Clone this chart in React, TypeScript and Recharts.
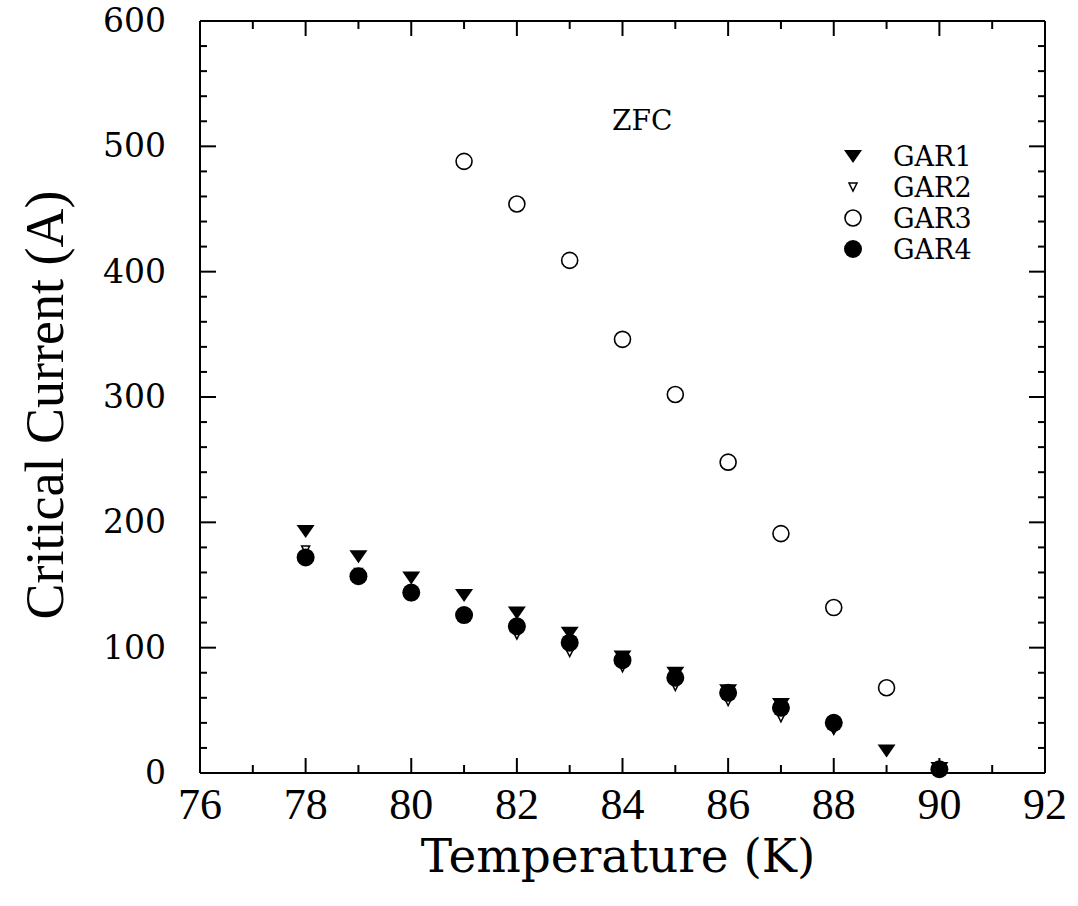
import { ScatterChart, Scatter, XAxis, YAxis } from "recharts"

const temps = [78, 79, 80, 81, 82, 83, 84, 85, 86, 87, 88, 89, 90]
const gar1 = [193, 173, 156, 142, 128, 112, 93, 80, 66, 55, 36, 18, 4]
const gar2 = [178, 160, 141, 124, 110, 96, 84, 69, 57, 44, 34, null, 2]
const gar3Temps = [81, 82, 83, 84, 85, 86, 87, 88, 89]
const gar3 = [488, 454, 409, 346, 302, 248, 191, 132, 68]
const gar4 = [172, 157, 144, 126, 117, 104, 90, 76, 64, 52, 40, null, 3]

const xTicks = [76, 77, 78, 79, 80, 81, 82, 83, 84, 85, 86, 87, 88, 89, 90, 91, 92]
const yTicks = Array.from({ length: 31 }, (_, i) => i * 20)

const toPoints = (xs: number[], ys: (number | null)[]) =>
    xs.map((t, i) => ({ t, v: ys[i] })).filter((p) => p.v !== null)

const FONT = "'DejaVu Serif', serif"

const TriFilled = ({ cx, cy }: any) => (
    <path d={`M${cx - 9},${cy - 6} L${cx + 9},${cy - 6} L${cx},${cy + 7} Z`} fill="#000" />
)
const TriOpen = ({ cx, cy }: any) => (
    <path d={`M${cx - 4},${cy - 4} L${cx + 4},${cy - 4} L${cx},${cy + 4} Z`} fill="#fff" stroke="#000" strokeWidth={1.5} />
)
const CircOpen = ({ cx, cy }: any) => (
    <circle cx={cx} cy={cy} r={8} fill="none" stroke="#000" strokeWidth={1.6} />
)
const CircFilled = ({ cx, cy }: any) => <circle cx={cx} cy={cy} r={9} fill="#000" />
const Nothing = () => <g />

const BottomTick = ({ x, y, payload }: any) => {
    const major = payload.value % 2 === 0
    return (
        <g>
            <line x1={x} x2={x} y1={y} y2={y - (major ? 15 : 8)} stroke="#000" strokeWidth={2} />
            {major && (
                <text x={x} y={y + 46} textAnchor="middle" fontFamily="'Liberation Serif', serif" fontSize={44} fill="#000">
                    {payload.value}
                </text>
            )}
        </g>
    )
}
const TopTick = ({ x, y, payload }: any) => {
    const major = payload.value % 2 === 0
    return <line x1={x} x2={x} y1={y} y2={y + (major ? 15 : 8)} stroke="#000" strokeWidth={2} />
}
const LeftTick = ({ x, y, payload }: any) => {
    const major = payload.value % 100 === 0
    return (
        <g>
            <line x1={x} x2={x + (major ? 16 : 7)} y1={y} y2={y} stroke="#000" strokeWidth={2} />
            {major && (
                <text x={x - 34} y={y + 11} textAnchor="end" fontFamily={FONT} fontSize={33} fill="#000">
                    {payload.value}
                </text>
            )}
        </g>
    )
}
const RightTick = ({ x, y, payload }: any) => {
    const major = payload.value % 100 === 0
    return <line x1={x} x2={x - (major ? 16 : 7)} y1={y} y2={y} stroke="#000" strokeWidth={2} />
}

const legendItems = [
    { name: "GAR1", Shape: TriFilled },
    { name: "GAR2", Shape: TriOpen },
    { name: "GAR3", Shape: CircOpen },
    { name: "GAR4", Shape: CircFilled },
]

const LegendBox = () => (
    <svg width={170} height={125} style={{ position: "absolute", left: 841, top: 142 }}>
        {legendItems.map(({ name, Shape }, i) => (
            <g key={name}>
                <Shape cx={12} cy={14 + i * 31} />
                <text x={52} y={24 + i * 31} fontFamily={FONT} fontSize={27} fill="#000">
                    {name}
                </text>
            </g>
        ))}
    </svg>
)

export default function App() {
    return (
        <div style={{ position: "absolute", left: 0, top: 0, width: 1078, height: 906, background: "#fff" }}>
            <ScatterChart width={1078} height={906} margin={{ top: 20, right: 32, bottom: 73, left: 80 }}>
                <XAxis
                    xAxisId="b"
                    dataKey="t"
                    type="number"
                    domain={[76, 92]}
                    ticks={xTicks}
                    interval={0}
                    height={60}
                    tickSize={0}
                    tickMargin={0}
                    tickLine={false}
                    axisLine={{ stroke: "#000", strokeWidth: 2 }}
                    tick={<BottomTick />}
                />
                <XAxis
                    xAxisId="t"
                    orientation="top"
                    dataKey="t"
                    type="number"
                    domain={[76, 92]}
                    ticks={xTicks}
                    interval={0}
                    height={1}
                    tickSize={0}
                    tickMargin={0}
                    tickLine={false}
                    axisLine={{ stroke: "#000", strokeWidth: 2 }}
                    tick={<TopTick />}
                />
                <YAxis
                    yAxisId="l"
                    dataKey="v"
                    type="number"
                    domain={[0, 600]}
                    ticks={yTicks}
                    interval={0}
                    width={120}
                    tickSize={0}
                    tickMargin={0}
                    tickLine={false}
                    axisLine={{ stroke: "#000", strokeWidth: 2 }}
                    tick={<LeftTick />}
                />
                <YAxis
                    yAxisId="r"
                    orientation="right"
                    dataKey="v"
                    type="number"
                    domain={[0, 600]}
                    ticks={yTicks}
                    interval={0}
                    width={1}
                    tickSize={0}
                    tickMargin={0}
                    tickLine={false}
                    axisLine={{ stroke: "#000", strokeWidth: 2 }}
                    tick={<RightTick />}
                />
                <Scatter xAxisId="t" yAxisId="r" name="frame" data={toPoints(temps, gar1)} shape={<Nothing />} isAnimationActive={false} />
                <Scatter xAxisId="b" yAxisId="l" name="GAR2" data={toPoints(temps, gar2)} shape={<TriOpen />} isAnimationActive={false} />
                <Scatter xAxisId="b" yAxisId="l" name="GAR3" data={toPoints(gar3Temps, gar3)} shape={<CircOpen />} isAnimationActive={false} />
                <Scatter xAxisId="b" yAxisId="l" name="GAR1" data={toPoints(temps, gar1)} shape={<TriFilled />} isAnimationActive={false} />
                <Scatter xAxisId="b" yAxisId="l" name="GAR4" data={toPoints(temps, gar4)} shape={<CircFilled />} isAnimationActive={false} />
            </ScatterChart>
            <LegendBox />
            <div style={{ position: "absolute", left: 612, top: 104, fontFamily: FONT, fontSize: 28 }}>ZFC</div>
            <div
                style={{
                    position: "absolute",
                    left: 618,
                    top: 855,
                    transform: "translate(-50%, -50%)",
                    fontFamily: FONT,
                    fontSize: 47,
                    whiteSpace: "nowrap",
                }}
            >
                Temperature (K)
            </div>
            <div
                style={{
                    position: "absolute",
                    left: 45,
                    top: 405,
                    transform: "translate(-50%, -50%) rotate(-90deg)",
                    fontFamily: "'Liberation Serif', serif",
                    fontSize: 54,
                    whiteSpace: "nowrap",
                }}
            >
                Critical Current (A)
            </div>
        </div>
    )
}
